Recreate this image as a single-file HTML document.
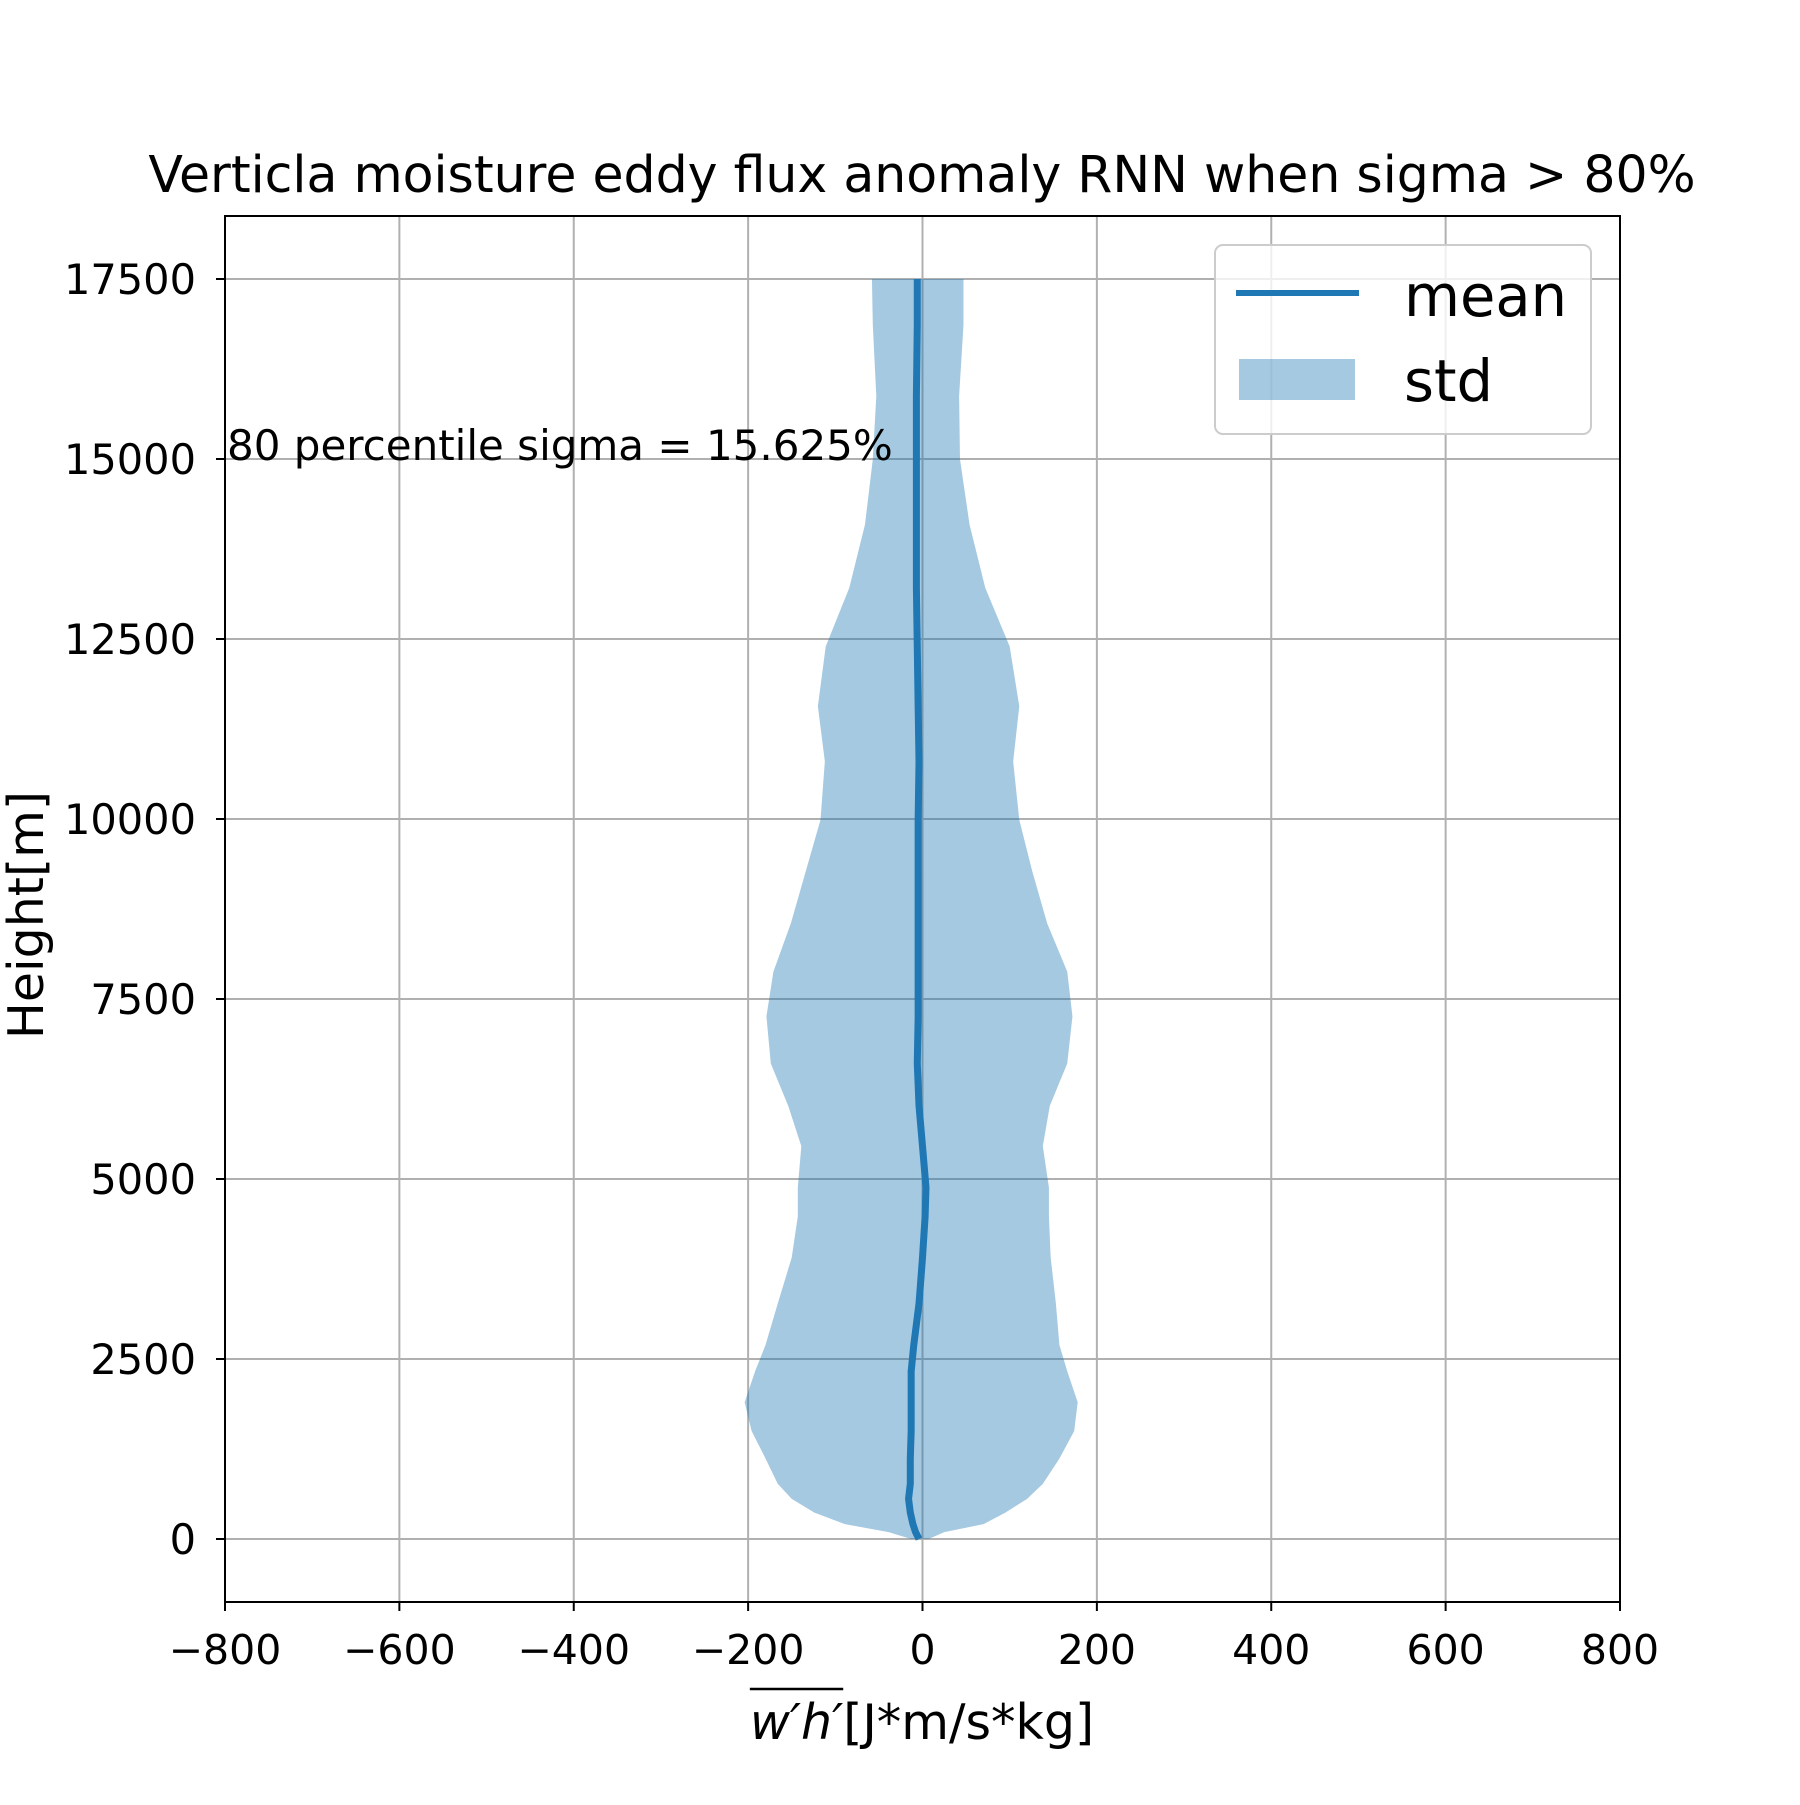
<!DOCTYPE html>
<html><head><meta charset="utf-8"><style>
body{margin:0;background:#fff}
svg text{font-family:"DejaVu Sans","Liberation Sans",sans-serif;fill:#000}
</style></head><body>
<svg id="c" width="1800" height="1800" xmlns="http://www.w3.org/2000/svg">
<rect width="1800" height="1800" fill="#fff"/>
<g id="grid"></g>
<g id="plot"></g>
<rect x="225" y="216" width="1395" height="1386" fill="none" stroke="#000" stroke-width="2"/>
<g id="ticks"></g>
<text x="922" y="192" font-size="50.5" text-anchor="middle">Verticla moisture eddy flux anomaly RNN when sigma &gt; 80%</text>
<text x="227" y="460" font-size="42">80 percentile sigma = 15.625%</text>
<g>
<line id="ovl" x1="749" y1="1689" x2="848" y2="1689" stroke="#000" stroke-width="2.5"/>
<text id="xl" x="922" y="1739" font-size="49" text-anchor="middle"><tspan id="wh" font-style="italic">w′h′</tspan>[J*m/s*kg]</text>
</g>
<text transform="translate(43,915) rotate(-90)" font-size="49" text-anchor="middle">Height[m]</text>
<g>
<rect x="1215" y="245" width="376" height="189" rx="8" fill="#fff" fill-opacity="0.8" stroke="#ccc" stroke-width="2"/>
<line x1="1236" y1="293" x2="1359" y2="293" stroke="#1f77b4" stroke-width="6"/>
<text x="1404" y="316" font-size="57.5">mean</text>
<rect x="1239" y="359" width="116" height="41" fill="#1f77b4" fill-opacity="0.4"/>
<text x="1404" y="401" font-size="57.5">std</text>
</g>
</svg>
<script>
const heights=[17500,16863,15874,14997,14087,13210,12396,11566,10800,9987,9269,8551,7881,7259,6605,6015,5456,4882,4483,3909,3271,2696,2329,1899,1500,1117,766,558,367,207,96,0];
const lower=[-58,-57,-53,-57,-66,-84,-111,-120,-112,-117,-134,-151,-171,-179,-174,-154,-139,-143,-143,-150,-166,-180,-192,-204,-196,-180,-166,-150,-124,-89,-39,-13];
const upper=[47,47,42,43,54,72,100,111,104,111,126,143,166,172,166,146,138,145,145,147,153,157,166,178,174,157,138,120,95,70,25,7];
const meanVals=[-6,-6,-7,-7,-7,-7,-6,-5,-4,-5,-5,-5,-5,-5,-6,-4,0,4,3,0,-4,-10,-13,-13,-13,-14,-14,-16,-14,-11,-8,-4];
const xTicks=[-800,-600,-400,-200,0,200,400,600,800];
const yTicks=[0,2500,5000,7500,10000,12500,15000,17500];
const X=v=>225+(v+800)/1600*1395;
const Y=v=>1602-(v+875)/19250*1386;
const NS="http://www.w3.org/2000/svg";
function mk(t,a,p){const e=document.createElementNS(NS,t);for(const k in a)e.setAttribute(k,a[k]);p.appendChild(e);return e;}
const grid=document.getElementById('grid'),ticks=document.getElementById('ticks'),plot=document.getElementById('plot');
xTicks.forEach(v=>{
 const g=mk('line',{x1:X(v),x2:X(v),y1:216,y2:1602,stroke:'#b0b0b0','stroke-width':2},grid);
 
 
 mk('line',{x1:X(v),x2:X(v),y1:1602,y2:1611,stroke:'#000','stroke-width':2},ticks);
 const t=mk('text',{x:X(v),y:1664,'font-size':41,'text-anchor':'middle'},ticks);
 t.textContent=v<0?'\u2212'+(-v):String(v);
 
 
});
yTicks.forEach(v=>{
 const g=mk('line',{x1:225,x2:1620,y1:Y(v),y2:Y(v),stroke:'#b0b0b0','stroke-width':2},grid);
 
 
 mk('line',{x1:216,x2:225,y1:Y(v),y2:Y(v),stroke:'#000','stroke-width':2},ticks);
 const t=mk('text',{x:196,y:Y(v)+15,'font-size':41.5,'text-anchor':'end'},ticks);
 t.textContent=String(v);
 
 
});
let pts=heights.map((h,i)=>X(lower[i])+','+Y(h));
for(let i=heights.length-1;i>=0;i--)pts.push(X(upper[i])+','+Y(heights[i]));
const band=mk('polygon',{points:pts.join(' '),fill:'#1f77b4','fill-opacity':0.4},plot);


const ln=mk('polyline',{points:heights.map((h,i)=>X(meanVals[i])+','+Y(h)).join(' '),fill:'none',stroke:'#1f77b4','stroke-width':7,'stroke-linejoin':'round'},plot);


try{const b=document.getElementById('wh').getBBox();const o=document.getElementById('ovl');o.setAttribute('x1',b.x);o.setAttribute('x2',b.x+b.width);}catch(e){}
</script>
</body></html>
